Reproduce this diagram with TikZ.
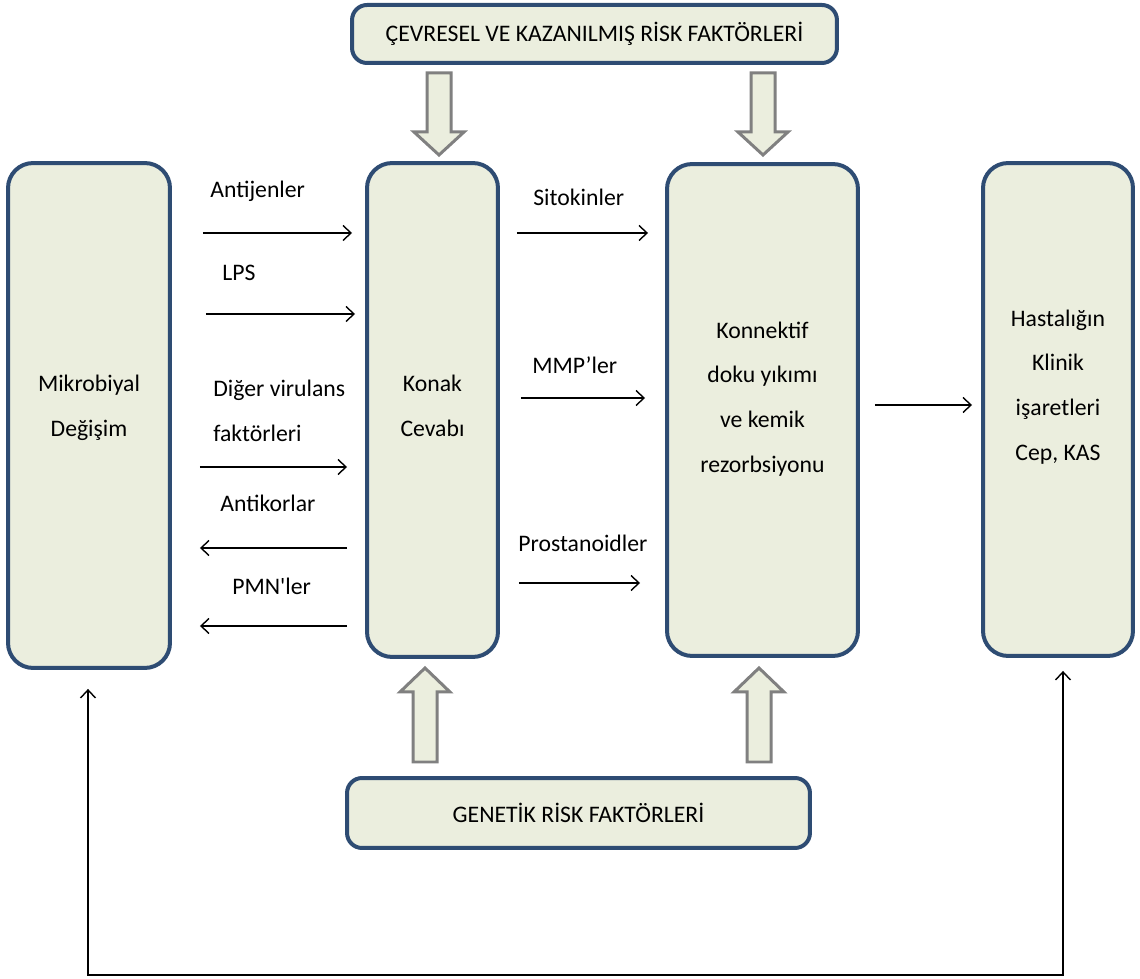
\documentclass[tikz,border=0pt]{standalone}
\usepackage{fontspec}
\setmainfont{Carlito}
\usetikzlibrary{arrows.meta}
\definecolor{boxfill}{RGB}{235,238,222}
\definecolor{boxline}{RGB}{46,76,115}
\definecolor{hollowline}{RGB}{128,128,128}

\begin{document}
\begin{tikzpicture}[x=0.02cm, y=-0.02cm,
	>={Straight Barb[length=1.6mm,width=3mm]},
	box/.style={draw=boxline, fill=boxfill, line width=0.08cm, rounded corners=0.5cm, outer sep=0pt},
	bar/.style={box, rounded corners=0.3cm, font=\fontsize{13.5}{25.5}\selectfont},
	txt/.style={font=\fontsize{13.5}{25.5}\selectfont, align=center, inner sep=0pt},
	lbl/.style={font=\fontsize{13.5}{25.5}\selectfont, align=left, inner sep=0pt, anchor=mid west},
	link/.style={line width=0.8pt, ->},
	hollow/.style={draw=hollowline, fill=boxfill, line width=0.06cm, line join=miter}]

	\useasboundingbox (0,0) rectangle (1140,979);

	% risk factor bars
	\node[bar, minimum width=9.7cm, minimum height=1.16cm] (cev) at (594.5,34) {ÇEVRESEL VE KAZANILMIŞ RİSK FAKTÖRLERİ};
	\node[bar, minimum width=9.26cm, minimum height=1.4cm] (gen) at (578.5,813) {GENETİK RİSK FAKTÖRLERİ};

	% main boxes
	\node[box, minimum width=3.24cm, minimum height=10.1cm] (mik) at (89,415.5) {};
	\node[box, minimum width=2.62cm, minimum height=9.88cm] (kon) at (432.5,410) {};
	\node[box, minimum width=3.82cm, minimum height=9.84cm] (kdy) at (762.5,410) {};
	\node[box, minimum width=3.0cm, minimum height=9.86cm] (has) at (1058,409.5) {};

	\node[txt] (miktxt) at (89,408) {Mikrobiyal\\Değişim};
	\node[txt] (kontxt) at (432.5,406) {Konak\\Cevabı};
	\node[txt] (kdytxt) at (762.5,399) {Konnektif\\doku yıkımı\\ve kemik\\rezorbsiyonu};
	\node[txt] (hastxt) at (1058,387) {Hastalığın\\Klinik\\işaretleri\\Cep, KAS};

	% hollow arrows
	\foreach \x in {439,763}
		\draw[hollow] (\x-12,73) -- (\x+12,73) -- (\x+12,132) -- (\x+25,132) -- (\x,155) -- (\x-25,132) -- (\x-12,132) -- cycle;
	\foreach \x in {425,759}
		\draw[hollow] (\x-12,762) -- (\x+12,762) -- (\x+12,692) -- (\x+25,692) -- (\x,668) -- (\x-25,692) -- (\x-12,692) -- cycle;

	% labels
	\node[lbl] (antijen) at (210,193) {Antijenler};
	\node[lbl] (lps) at (222,276) {LPS};
	\node[lbl, anchor=west] (diger) at (213,411) {Diğer virulans\\faktörleri};
	\node[lbl] (antikor) at (220,507) {Antikorlar};
	\node[lbl] (pmn) at (232,590) {PMN\textquotesingle ler};
	\node[lbl] (sito) at (533,201) {Sitokinler};
	\node[lbl] (mmp) at (532,369) {MMP’ler};
	\node[lbl] (prosta) at (518,547) {Prostanoidler};

	% thin arrows
	\foreach \y/\s/\e in {233/0.66/0.3, 314/0.72/0.24, 467/0.6/0.4}
		\draw[link, shorten <=\s cm, shorten >=\e cm] (mik.east |- 0,\y) -- (kon.west |- 0,\y);
	\foreach \y in {548,626}
		\draw[link, shorten <=0.4cm, shorten >=0.6cm] (kon.west |- 0,\y) -- (mik.east |- 0,\y);
	\foreach \y/\s/\e in {233/0.38/0.38, 398/0.46/0.44, 583/0.42/0.54}
		\draw[link, shorten <=\s cm, shorten >=\e cm] (kon.east |- 0,\y) -- (kdy.west |- 0,\y);
	\draw[link, shorten <=0.34cm, shorten >=0.22cm] (kdy.east |- 0,405) -- (has.west |- 0,405);

	% feedback loop
	\draw[link, <->, shorten <=0.42cm, shorten >=0.3cm] (mik.south -| 88,0) |- (1063,975) -- (has.south -| 1063,0);
\end{tikzpicture}
\end{document}
